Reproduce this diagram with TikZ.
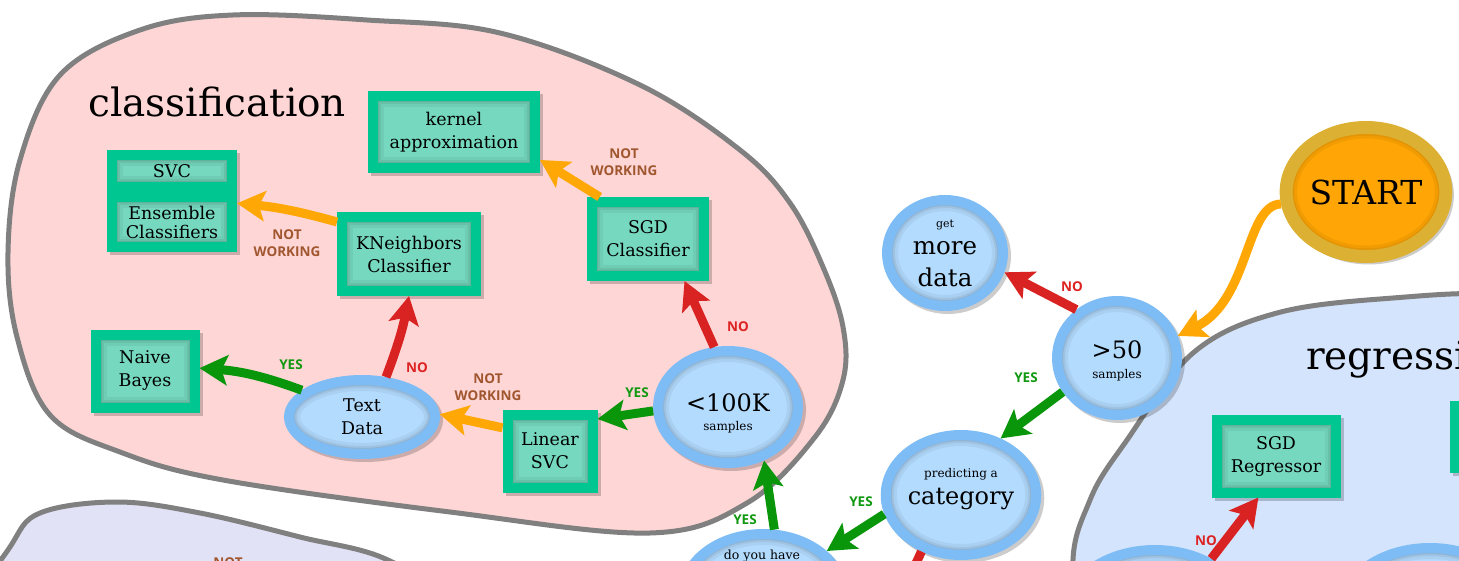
\documentclass[tikz,border=0pt]{standalone}
\usepackage{fontspec}
\setmainfont{DejaVu Serif}
\newfontfamily\labfont{Open Sans}
\usetikzlibrary{arrows.meta,shapes.geometric,shadows,calc}
\definecolor{cPink}{HTML}{FFD6D6}
\definecolor{cLav}{HTML}{E2E2F6}
\definecolor{cReg}{HTML}{D4E4FC}
\definecolor{cBlob}{HTML}{808080}
\definecolor{cBoxLine}{HTML}{00C792}
\definecolor{cBoxFill}{HTML}{76D8BF}
\definecolor{cEllLine}{HTML}{7DBCF5}
\definecolor{cEllFill}{HTML}{B3DBFE}
\definecolor{cStartLine}{HTML}{DCB032}
\definecolor{cStartFill}{HTML}{FFA505}
\definecolor{cRed}{HTML}{D92222}
\definecolor{cGreen}{HTML}{0A960A}
\definecolor{cOrange}{HTML}{FFA705}
\definecolor{cNo}{HTML}{DD2222}
\definecolor{cYes}{HTML}{109910}
\definecolor{cNW}{HTML}{A0562E}
\begin{document}
\begin{tikzpicture}[x=1pt,y=-1pt,
  blob/.style={draw=cBlob, line width=5pt},
  title/.style={font=\fontsize{39}{42}\selectfont, inner sep=0pt},
  boxsh/.style={path picture={
    \foreach \w/\o in {12/0.08,16/0.06,22/0.05}{
      \draw[line width=\w pt, black, opacity=\o] (path picture bounding box.south west) rectangle (path picture bounding box.north east);}}},
  ellsh/.style={path picture={
    \foreach \w/\o in {12/0.08,16/0.06,22/0.05}{
      \draw[line width=\w pt, black, opacity=\o] let \p1=($(path picture bounding box.north east)-(path picture bounding box.center)$) in (path picture bounding box.center) ellipse [x radius=\x1, y radius=\y1];}}},
  shad/.style={drop shadow={shadow xshift=3pt, shadow yshift=-3pt, opacity=0.2, fill=black, draw=black, line width=10pt}},
  algo/.style={rectangle, draw=cBoxLine, fill=cBoxFill, line width=10pt, inner sep=0pt, align=center,
    font=\fontsize{17.5}{23}\selectfont, shad, boxsh},
  dec/.style={ellipse, draw=cEllLine, fill=cEllFill, line width=10pt, inner sep=0pt, align=center, shad, ellsh},
  arr/.style={line width=9pt, -{Stealth[length=28pt, width=30pt, inset=6pt]}},
  lab/.style={font=\labfont\bfseries\fontsize{13.5}{17}\selectfont, align=center, inner sep=0pt},
  nolab/.style={lab, text=cNo},
  yeslab/.style={lab, text=cYes},
  nwlab/.style={lab, text=cNW}
]
\useasboundingbox (0,0) rectangle (1459,561);
\begin{scope}
\clip (0,0) rectangle (1459,561);
% clusters
\draw[blob, fill=cPink] plot[smooth cycle, tension=0.6] coordinates {(233,15) (367,20) (500,33) (640,85) (740,150) (790,203) (823,267) (843,327) (843,380) (815,437) (747,503) (650,533) (450,512) (223,480) (120,452) (50,415) (17,337) (8,253) (20,160) (60,75) (140,30)};
\draw[blob, fill=cLav] plot[smooth cycle, tension=0.6] coordinates {(-30,620) (10,547) (40,513) (117,502) (200,513) (300,537) (390,561) (470,620) (300,700) (0,700)};
\draw[blob, fill=cReg] plot[smooth cycle, tension=0.6] coordinates {(1073,575) (1090,500) (1127,440) (1193,353) (1277,313) (1393,298) (1510,295) (1640,320) (1720,500) (1600,720) (1100,720)};
\node[title, anchor=base west] (tclass) at (88,117) {classification};
\node[title, anchor=base west] (treg) at (1306,369) {regression};

% start
\node[ellipse, draw=cStartLine, fill=cStartFill, line width=13pt, minimum width=151pt, minimum height=129pt,
  inner sep=0pt, font=\fontsize{33}{36}\selectfont, shad, ellsh] (start) at (1366,192) {START};

% decision nodes
\node[dec, minimum width=116pt, minimum height=106pt, font=\fontsize{24.5}{32}\selectfont] (more) at (945,253) {{\fontsize{11}{12}\selectfont get}\\[-5pt]more\\data};
\node[dec, minimum width=120pt, minimum height=114pt, font=\fontsize{24}{20}\selectfont] (gt50) at (1117,358) {\rule{0pt}{24pt}>50\\{\fontsize{12}{14}\selectfont samples}};
\node[dec, minimum width=142pt, minimum height=120pt, font=\fontsize{24}{27}\selectfont] (cat) at (961,495) {{\fontsize{12}{14}\selectfont predicting a}\\category\rule[-18pt]{0pt}{1pt}};
\node[dec, minimum width=140pt, minimum height=112pt, font=\fontsize{24}{19}\selectfont] (lt100) at (728,407) {\rule{0pt}{31pt}<100K\\{\fontsize{12}{14}\selectfont samples}};
\node[dec, minimum width=146pt, minimum height=74pt, font=\fontsize{17.5}{23}\selectfont] (tdata) at (362,417) {Text\\Data};
\node[dec, minimum width=160pt, minimum height=120pt] (doyou) at (763,594) {};
\node[font=\fontsize{12.5}{15}\selectfont, anchor=base, inner sep=0pt] (doyoutxt) at (762,559) {do you have};
\node[dec, minimum width=180pt, minimum height=130pt] (regA) at (1155,615) {};
\node[dec, minimum width=180pt, minimum height=130pt] (regB) at (1430,613) {};

% estimators
\node[algo, minimum width=162pt, minimum height=72pt] (kernel) at (454,132) {kernel\\approximation};
\node[algo, minimum width=120pt, minimum height=32pt] (svc) at (172,171) {SVC};
\node[algo, minimum width=120pt, minimum height=50pt, font=\fontsize{17.5}{19}\selectfont] (ens) at (172,222) {Ensemble\\Classifiers};
\node[algo, minimum width=134pt, minimum height=74pt] (knn) at (409,254) {KNeighbors\\Classifier};
\node[algo, minimum width=99pt, minimum height=73pt] (nb) at (145,371) {Naive\\Bayes};
\node[algo, minimum width=112pt, minimum height=74pt] (sgdc) at (648,239) {SGD\\Classifier};
\node[algo, minimum width=85pt, minimum height=73pt] (linsvc) at (550,451) {Linear\\SVC};
\node[algo, minimum width=119pt, minimum height=73pt] (sgdr) at (1276,456) {SGD\\Regressor};
\node[algo, minimum width=110pt, minimum height=26pt] (rbox1) at (1510,419) {};
\node[algo, minimum width=110pt, minimum height=26pt] (rbox2) at (1510,455) {};

% connectors
\coordinate (catdown) at (890,620);
\draw[arr, cOrange] (start.188) .. controls (1245,205) and (1250,300) .. (gt50.20);
\draw[arr, cRed] (gt50.130) -- (more.-18);
\draw[arr, cGreen] (gt50.-148) -- (cat.55);
\draw[arr, cGreen] (cat.194) -- (doyou.34);
\draw[arr, cRed] (cat.-125) -- (catdown);
\draw[arr, cGreen] (doyou.80) -- (lt100.-56);
\draw[arr, cRed] (lt100.103) -- (sgdc.-49);
\draw[arr, cGreen] (lt100.183) -- (linsvc.34);
\draw[arr, cOrange] (linsvc.154) -- (tdata.2);
\draw[arr, cGreen] (tdata.156) to[bend right=8] (nb.3);
\draw[arr, cRed] (tdata.59) to[bend right=5] (knn.south);
\draw[arr, cOrange] (knn.156) to[bend right=5] (ens.16);
\draw[arr, cOrange] (sgdc.139) -- (kernel.-18);
\draw[arr, cRed] (regA.45) -- (sgdr.-113);

% labels
\node[nolab] (l1) at (1072,287) {NO};
\node[yeslab] (l2) at (1026,378) {YES};
\node[yeslab] (l3) at (861,502) {YES};
\node[yeslab] (l4) at (745,520) {YES};
\node[nolab] (l5) at (738,327) {NO};
\node[yeslab] (l6) at (637,393) {YES};
\node[nwlab] (l7) at (488,387) {NOT\\WORKING};
\node[yeslab] (l8) at (291,365) {YES};
\node[nolab] (l9) at (417,368) {NO};
\node[nwlab] (l10) at (287,243) {NOT\\WORKING};
\node[nwlab] (l11) at (624,162) {NOT\\WORKING};
\node[nolab] (l12) at (1206,541) {NO};
\node[nwlab] (l13) at (228,563) {NOT};
\end{scope}
\end{tikzpicture}
\end{document}
